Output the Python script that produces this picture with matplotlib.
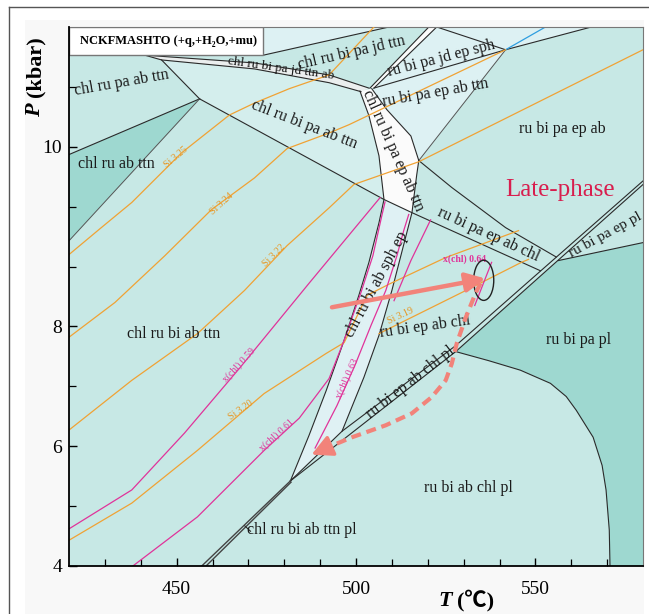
import matplotlib.pyplot as plt
from matplotlib.patches import Rectangle, Ellipse, FancyArrowPatch
from matplotlib.lines import Line2D

plt.rcParams['font.family'] = ['Liberation Serif', 'DejaVu Serif']

# field colours
c_main = '#c7e8e5'
c_dark = '#9ed8d0'
c_pale = '#d4eeed'
c_light = '#ddf1f3'
c_white = '#fbfbfb'
c_line = '#2a2a2a'
c_si = '#f0a234'
c_chl = '#e0339a'
c_path = '#f2837a'

# ---- phase field boundaries (T in degC, P in kbar) ----
wedge_top_T = [441.1, 471.7, 492.5, 503.6]
wedge_top_P = [12.53, 12.40, 12.20, 11.98]
wedge_bot_T = [441.1, 445.8, 471.7, 492.5, 501.4]
wedge_bot_P = [12.53, 12.45, 12.30, 12.07, 11.92]

kink_T, kink_P = 456.4, 11.80
long_T = [456.4, 507.8, 515.6, 551.4]
long_P = [11.80, 10.12, 9.90, 8.93]

top_T = [474.2, 509.2]
top_P = [12.53, 13.0]

dbl_l_T = [503.9, 520.3]
dbl_l_P = [11.98, 13.0]
dbl_r_T = [505.0, 522.5]
dbl_r_P = [11.98, 13.0]

jn_T, jn_P = 541.7, 12.62
t1_T, t1_P = 517.5, 10.77

band_l_T = [501.1, 503.6, 506.4, 507.8, 506.4, 503.6, 500.8, 496.7, 491.7, 486.9, 481.7]
band_l_P = [11.93, 11.52, 10.85, 10.12, 9.73, 9.07, 8.52, 7.77, 6.93, 6.18, 5.42]
band_r_T = [504.4, 508.6, 515.3, 517.5, 516.9, 515.6, 512.5, 510.0, 506.4, 502.2, 496.1]
band_r_P = [11.97, 11.62, 11.18, 10.77, 10.52, 9.90, 9.18, 8.60, 7.85, 7.15, 6.25]

curve_T = [517.5, 526.7, 541.7, 555.8]
curve_P = [10.77, 10.32, 9.65, 9.16]

up_T = [481.7, 496.1, 527.8, 580.0]
up_P = [5.42, 6.25, 7.68, 10.43]
lo_T = [481.7, 527.8, 580.0]
lo_P = [5.42, 7.58, 10.37]

pl_T = [556.4, 580.0]
pl_P = [9.10, 9.40]

pa_T = [527.8, 536.9, 545.8, 554.2, 558.6, 561.4, 566.1, 568.6, 569.7, 570.6, 570.8]
pa_P = [7.58, 7.43, 7.27, 7.05, 6.83, 6.60, 6.15, 5.68, 5.27, 4.60, 4.0]

low_a_T = [457.0, 481.7]
low_a_P = [4.0, 5.42]
low_b_T = [458.2, 481.9]
low_b_P = [4.0, 5.40]

# ---- Si-in-phengite isopleths ----
si325_T = [420, 428.6, 437.5, 451.4, 464.7, 471.7, 481.4, 492.5, 505.0]
si325_P = [9.20, 9.63, 10.07, 10.90, 11.53, 11.73, 11.97, 12.20, 13.0]
si324_T = [420, 432.8, 446.7, 459.7, 471.7, 480.8, 492.5, 498.1, 541.7]
si324_P = [7.82, 8.40, 9.18, 9.95, 10.48, 10.97, 11.23, 11.37, 12.62]
si322_T = [420, 437.5, 455.8, 468.9, 480.8, 492.5, 499.4, 517.5, 580.0]
si322_P = [6.27, 7.10, 7.88, 8.60, 9.35, 9.98, 10.37, 10.75, 12.62]
si320_T = [420, 437.5, 455.8, 474.4, 491.7, 496.7, 503.1, 509.7, 525.0, 545.3]
si320_P = [4.43, 5.05, 5.93, 6.88, 7.55, 7.73, 8.52, 8.72, 9.15, 9.60]
si319_T = [506.4, 530.6, 546.1, 548.1]
si319_P = [7.88, 8.60, 9.07, 9.12]

# ---- x(chl) isopleths ----
x059_T = [420, 437.5, 452.2, 467.5, 486.9, 506.7]
x059_P = [4.62, 5.27, 6.22, 7.30, 8.72, 10.15]
x061_T = [437.8, 455.8, 474.4, 484.2, 492.5, 496.7, 501.4, 504.7, 507.2, 508.1]
x061_P = [4.0, 4.82, 5.93, 6.47, 7.13, 7.77, 8.57, 9.18, 9.85, 10.08]
x063_T = [488.6, 494.7, 499.7, 504.2, 508.3, 511.4, 513.3, 514.7]
x063_P = [5.97, 6.68, 7.35, 8.02, 8.60, 9.18, 9.60, 9.87]
x063b_T = [510.6, 515.3, 520.8]
x063b_P = [8.43, 9.10, 9.78]
x064_T = [537.8, 533.1]
x064_P = [9.07, 8.35]

# ---- P-T path ----
prograde_T = [493.3, 536.1]
prograde_P = [8.32, 8.80]
retro_T = [534.7, 533.3, 530.6, 528.1, 526.7, 525.0, 521.1, 515.6, 508.3, 498.9, 491.7]
retro_P = [8.72, 8.55, 8.15, 7.72, 7.38, 7.10, 6.82, 6.55, 6.35, 6.15, 5.97]
retro_tip = (487.6, 5.86)
peak_T, peak_P = 535.6, 8.77

# ---- labels: (text, T, P, rotation, size) ----
field_labels = [
    ('chl ru pa ab ttn', 434.7, 12.07, 10, 11.5),
    ('chl ru ab ttn', 433.1, 10.72, 0, 11.5),
    ('chl ru bi pa jd ttn ab', 479.0, 12.31, -8, 9.5),
    ('chl ru bi pa jd ttn', 498.9, 12.57, 13, 11.5),
    ('ru bi pa jd ep sph', 523.9, 12.47, 14.5, 11.5),
    ('ru bi pa ep ab ttn', 522.2, 11.90, 10, 11.5),
    ('chl ru bi pa ab ttn', 485.6, 11.37, -21, 11.5),
    ('chl ru bi pa ep ab ttn', 510.2, 10.93, -66, 11.5),
    ('chl ru bi ab sph ep', 505.8, 8.70, 62, 11.5),
    ('ru bi pa ep ab', 557.5, 11.30, 0, 11.5),
    ('ru bi pa ep ab chl', 536.9, 9.53, -24.6, 11.5),
    ('ru bi pa ep pl', 569.6, 9.52, 28.5, 11),
    ('ru bi ep ab chl', 519.2, 8.00, 8, 11.5),
    ('ru bi ep ab chl pl', 515.3, 7.07, 38, 11.5),
    ('ru bi pa pl', 561.9, 7.77, 0, 11.5),
    ('ru bi ab chl pl', 531.4, 5.30, 0, 11.5),
    ('chl ru bi ab ttn pl', 485.0, 4.60, 0, 11.5),
    ('chl ru bi ab ttn', 449.2, 7.88, 0, 11.5),
]
si_labels = [
    ('Si 3.25', 449.7, 10.82, 40),
    ('Si 3.24', 462.5, 10.05, 42),
    ('Si 3.22', 477.2, 9.18, 45),
    ('Si 3.20', 467.8, 6.60, 35),
    ('Si 3.19', 512.5, 8.18, 25),
]
chl_labels = [
    ('x(chl) 0.59', 467.5, 7.35, 47),
    ('x(chl) 0.61', 477.8, 6.18, 42),
    ('x(chl) 0.63', 497.5, 7.13, 66),
]

fig = plt.figure(figsize=(6.49, 6.14), dpi=100)
fig.patches.append(Rectangle((25 / 649, 0), 619 / 649, 594 / 614, transform=fig.transFigure,
                             facecolor='#f8f8f8', edgecolor='none', zorder=-10))
fig.add_artist(Line2D([9 / 649, 9 / 649], [0, 1 - 7 / 614], transform=fig.transFigure, color='#555', lw=1))
fig.add_artist(Line2D([9 / 649, 1], [1 - 7 / 614, 1 - 7 / 614], transform=fig.transFigure, color='#555', lw=1))

ax = fig.add_axes([69 / 649, 48 / 614, 574 / 649, 539 / 614])
ax.set_xlim(420, 580)
ax.set_ylim(4, 13)
ax.set_facecolor(c_main)

# fills
ax.fill([420, kink_T, 420], [10.87, kink_P, 9.43], color=c_dark, lw=0, zorder=1)
ax.fill([445.8, kink_T, 507.8, 506.4, 503.6, 501.1, 492.5, 471.7],
        [12.45, kink_P, 10.12, 10.85, 11.52, 11.93, 12.07, 12.30], color=c_pale, lw=0, zorder=1)
ax.fill(wedge_top_T + wedge_bot_T[::-1], wedge_top_P + wedge_bot_P[::-1], color='#ebeeee', lw=0, zorder=1)
ax.fill([474.2, 474.2, 509.2], [12.53, 13.0, 13.0], color=c_light, lw=0, zorder=1)
ax.fill(dbl_l_T + dbl_r_T[::-1], dbl_l_P + dbl_r_P[::-1], color=c_white, lw=0, zorder=1)
ax.fill([505.0, 522.5, jn_T], [11.98, 13.0, jn_P], color=c_light, lw=0, zorder=1)
ax.fill([522.5, jn_T, 565.6], [13.0, jn_P, 13.0], color=c_light, lw=0, zorder=1)
ax.fill([505.0, jn_T] + band_r_T[3::-1], [11.98, jn_P] + band_r_P[3::-1], color=c_light, lw=0, zorder=1)
ax.fill(band_l_T[:4] + band_r_T[5::-1], band_l_P[:4] + band_r_P[5::-1], color=c_white, lw=0, zorder=1)
ax.fill(band_l_T[3:] + band_r_T[:4:-1], band_l_P[3:] + band_r_P[:4:-1], color='#dff1f4', lw=0, zorder=1)
ax.fill(pa_T + [580, 580, pl_T[0], lo_T[1]], pa_P + [4.0, pl_P[1], pl_P[0], lo_P[1]],
        color=c_dark, lw=0, zorder=1)

# boundaries
kw = dict(color=c_line, lw=0.8, zorder=2)
ax.plot(wedge_top_T, wedge_top_P, **kw)
ax.plot(wedge_bot_T, wedge_bot_P, **kw)
ax.plot([445.8, kink_T], [12.45, kink_P], **kw)
ax.plot([kink_T, 420], [kink_P, 10.87], **kw)
ax.plot([kink_T, 420], [kink_P, 9.43], color='#555', lw=0.7, zorder=2)
ax.plot(long_T, long_P, **kw)
ax.plot(top_T, top_P, **kw)
ax.plot(dbl_l_T, dbl_l_P, **kw)
ax.plot(dbl_r_T, dbl_r_P, **kw)
ax.plot([505.0, jn_T], [11.98, jn_P], **kw)
ax.plot([522.5, jn_T, 565.6], [13.0, jn_P, 13.0], **kw)
ax.plot([jn_T, t1_T], [jn_P, t1_P], color='#555', lw=0.7, zorder=2)
ax.plot([jn_T, 552.8], [jn_P, 13.0], color='#2f9ee0', lw=0.9, zorder=2)
ax.plot(band_l_T, band_l_P, **kw)
ax.plot(band_r_T, band_r_P, **kw)
ax.plot(curve_T, curve_P, **kw)
ax.plot(up_T, up_P, **kw)
ax.plot(lo_T, lo_P, **kw)
ax.plot(pl_T, pl_P, **kw)
ax.plot(pa_T, pa_P, **kw)
ax.plot(low_a_T, low_a_P, color='#444', lw=1.0, zorder=2)
ax.plot(low_b_T, low_b_P, color='#444', lw=1.0, zorder=2)
ax.plot([469.0, 470.6], [4.67, 4.58], color=c_line, lw=0.8, zorder=2)

# isopleths
for t, p in [(si325_T, si325_P), (si324_T, si324_P), (si322_T, si322_P),
             (si320_T, si320_P), (si319_T, si319_P)]:
    ax.plot(t, p, color=c_si, lw=0.9, zorder=3)
for t, p in [(x059_T, x059_P), (x061_T, x061_P), (x063_T, x063_P),
             (x063b_T, x063b_P), (x064_T, x064_P)]:
    ax.plot(t, p, color=c_chl, lw=0.9, zorder=3)

# labels
for s, t, p, r, fs in field_labels:
    ax.text(t, p, s, fontsize=fs, rotation=r, ha='center', va='center',
            rotation_mode='anchor', color='#1a1a1a', zorder=4)
for s, t, p, r in si_labels:
    ax.text(t, p, s, fontsize=7, rotation=r, ha='center', va='center',
            rotation_mode='anchor', color='#e8951f', zorder=4)
for s, t, p, r in chl_labels:
    ax.text(t, p, s, fontsize=7, rotation=r, ha='center', va='center',
            rotation_mode='anchor', color=c_chl, zorder=4)
ax.text(530.3, 9.13, 'x(chl) 0.64', fontsize=7, fontweight='bold', ha='center',
        va='center', color=c_chl, zorder=4)
ax.text(556.9, 10.27, 'Late-phase', fontsize=18, ha='center', va='center',
        color='#d81e4e', zorder=4)

# P-T path
ax.add_patch(Ellipse((peak_T, peak_P), 5.6, 0.67, fill=False, ec='#222', lw=1.0, zorder=5))
ax.add_patch(FancyArrowPatch((prograde_T[0], prograde_P[0]), (prograde_T[1], prograde_P[1]),
                             arrowstyle='-|>,head_length=0.65,head_width=0.32', mutation_scale=18,
                             lw=3.2, color=c_path, shrinkA=0, shrinkB=0, zorder=6))
ax.plot(retro_T, retro_P, color=c_path, lw=3.0, ls=(0, (2.4, 1.4)), solid_capstyle='butt',
        dash_capstyle='butt', zorder=6)
ax.add_patch(FancyArrowPatch((retro_T[-1], retro_P[-1]), retro_tip,
                             arrowstyle='-|>,head_length=0.7,head_width=0.36', mutation_scale=18,
                             lw=2.5, color=c_path, shrinkA=0, shrinkB=0, zorder=6))

# system box
ax.add_patch(Rectangle((420, 12.53), 54.2, 0.47, facecolor='white', edgecolor='#777', lw=1, zorder=7))
ax.text(447.6, 12.765, 'NCKFMASHTO (+q,+H\u2082O,+mu)', fontsize=9, fontweight='bold',
        ha='center', va='center', zorder=8)

# axes
ax.set_xticks([450, 500, 550])
ax.set_xticks(range(430, 580, 10), minor=True)
ax.set_yticks([4, 6, 8, 11])
ax.set_yticklabels(['4', '6', '8', '10'])
ax.set_yticks([5, 7, 9, 10, 12], minor=True)
ax.tick_params(which='both', direction='in', top=False, right=False, labelsize=14)
ax.tick_params(which='major', length=6, width=1)
ax.tick_params(which='minor', length=5, width=0.9)
ax.tick_params(axis='x', which='major', pad=11)
ax.tick_params(axis='y', which='major', pad=5)
for side in ['left', 'bottom']:
    ax.spines[side].set_linewidth(1.3)
    ax.spines[side].set_zorder(9)
for side in ['top', 'right']:
    ax.spines[side].set_linewidth(0.8)
    ax.spines[side].set_color('#777')

fig.text(35 / 649, 1 - 110 / 614, 'P', rotation=90, fontsize=16, fontweight='bold',
         fontstyle='italic', ha='center', va='center')
fig.text(35 / 649, 1 - 67 / 614, '(kbar)', rotation=90, fontsize=16, fontweight='bold',
         ha='center', va='center')
fig.text(445 / 649, 1 - 601 / 614, 'T', fontsize=16, fontweight='bold', fontstyle='italic',
         ha='center', va='center')
fig.text(476 / 649, 1 - 601 / 614, '(\u2103)', fontsize=16, fontweight='bold', ha='center',
         va='center', family=['Liberation Serif', 'Noto Sans CJK SC'])

fig.savefig('out.png', dpi=100)
